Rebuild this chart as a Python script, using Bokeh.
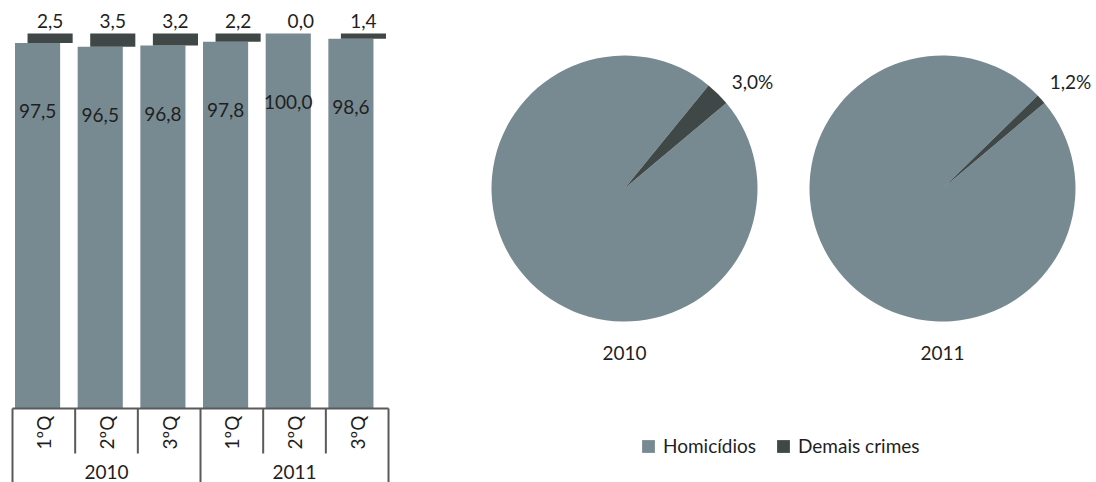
import math
from bokeh.plotting import figure
from bokeh.models import Range1d, ColumnDataSource, Legend, LegendItem
from bokeh.layouts import row
from bokeh.core.properties import value
from bokeh.embed import file_html
from bokeh.resources import INLINE

# ---------------- data ----------------
quarters = ["1ºQ", "2ºQ", "3ºQ", "1ºQ", "2ºQ", "3ºQ"]
years = ["2010", "2011"]
homicidios = [97.5, 96.5, 96.8, 97.8, 100.0, 98.6]
demais = [2.5, 3.5, 3.2, 2.2, 0.0, 1.4]

pie_years = ["2010", "2011"]
pie_homicidios = [97.0, 98.8]
pie_demais = [3.0, 1.2]

GRAY = "#778a91"
DARK = "#3f4847"
TEXT = "#1f1f1f"
AXIS = "#5a5a5a"
FONT = "Lato"
FS = "19px"

def fmt(v):
    return f"{v:.1f}".replace(".", ",")

# ---------------- bar chart ----------------
W1, H = 420, 482
px_per_cat = 62.67
px_per_unit = 3.75
x0_px, y0_px = 12, 408
p1 = figure(width=W1, height=H, output_backend="svg", toolbar_location=None,
            x_axis_type=None, y_axis_type=None,
            x_range=Range1d(-x0_px / px_per_cat, (W1 - x0_px) / px_per_cat),
            y_range=Range1d(-(H - y0_px) / px_per_unit, y0_px / px_per_unit),
            min_border=0)
p1.outline_line_color = None
p1.grid.visible = False

n = len(homicidios)
xc = [i + 0.5 for i in range(n)]
bars = ColumnDataSource(dict(
    xg=[x - 0.1 for x in xc], xd=[x + 0.1 for x in xc],
    hom=homicidios, dem=demais,
    top=[h + d for h, d in zip(homicidios, demais)],
    hom_lbl=[fmt(v) for v in homicidios], dem_lbl=[fmt(v) for v in demais],
    hom_y=[v - 68 / px_per_unit for v in homicidios],
    dem_y=[h + d + 13 / px_per_unit for h, d in zip(homicidios, demais)],
))
p1.vbar(x="xg", bottom=0, top="hom", width=0.72, source=bars, color=GRAY, line_color=None)
p1.vbar(x="xd", bottom="hom", top="top", width=0.72, source=bars, color=DARK, line_color=None)
p1.text(x="xg", y="hom_y", text="hom_lbl", source=bars, text_font=value(FONT),
        text_font_size=FS, text_color=TEXT, text_align="center", text_baseline="middle")
p1.text(x="xd", y="dem_y", text="dem_lbl", source=bars, text_font=value(FONT),
        text_font_size=FS, text_color=TEXT, text_align="center", text_baseline="middle")

# category axis (Excel style multi-level)
y_bottom = -(H - y0_px) / px_per_unit
y_q = -45 / px_per_unit
p1.segment(x0=[0], y0=[0], x1=[n], y1=[0], line_color=AXIS, line_width=2)
inner = [i for i in range(n + 1) if i % 3 != 0]
outer = [i for i in range(n + 1) if i % 3 == 0]
p1.segment(x0=inner, y0=[0] * len(inner), x1=inner, y1=[y_q] * len(inner),
           line_color=AXIS, line_width=2)
p1.segment(x0=outer, y0=[0] * len(outer), x1=outer, y1=[y_bottom] * len(outer),
           line_color=AXIS, line_width=2)
p1.text(x=xc, y=[-24 / px_per_unit] * n, text=quarters, angle=math.pi / 2,
        text_font=value(FONT), text_font_size=FS, text_color=TEXT,
        text_align="center", text_baseline="middle")
p1.text(x=[1.5, 4.5], y=[-63 / px_per_unit] * 2, text=years,
        text_font=value(FONT), text_font_size=FS, text_color=TEXT,
        text_align="center", text_baseline="middle")

# ---------------- pies ----------------
W2 = 1096 - W1
p2 = figure(width=W2, height=H, output_backend="svg", toolbar_location=None,
            x_axis_type=None, y_axis_type=None,
            x_range=Range1d(W1, 1096), y_range=Range1d(0, H), min_border=0)
p2.outline_line_color = None
p2.grid.visible = False

cx = [624, 942]
cy = [H - 188, H - 188]
r = 133
start = math.radians(40)
dark_end = [start + d / 100 * 2 * math.pi for d in pie_demais]
gsrc = ColumnDataSource(dict(x=cx, y=cy, s=dark_end, e=[start + 2 * math.pi] * 2))
dsrc = ColumnDataSource(dict(x=cx, y=cy, s=[start] * 2, e=dark_end))
rg = p2.wedge(x="x", y="y", radius=r, start_angle="s", end_angle="e", source=gsrc,
              color=GRAY, line_color=None)
rd = p2.wedge(x="x", y="y", radius=r, start_angle="s", end_angle="e", source=dsrc,
              color=DARK, line_color=None)

lbl_r = 167
p2.text(x=[c + lbl_r * math.cos(start) for c in cx],
        y=[c + lbl_r * math.sin(start) for c in cy],
        text=[fmt(v) + "%" for v in pie_demais],
        text_font=value(FONT), text_font_size=FS, text_color=TEXT,
        text_align="center", text_baseline="middle")
p2.text(x=cx, y=[c - 164 for c in cy], text=pie_years,
        text_font=value(FONT), text_font_size=FS, text_color=TEXT,
        text_align="center", text_baseline="middle")

legend = Legend(items=[LegendItem(label="Homicídios", renderers=[rg]),
                       LegendItem(label="Demais crimes", renderers=[rd])],
                orientation="horizontal", location=(220, 25),
                border_line_color=None, background_fill_alpha=0,
                padding=0, margin=0, spacing=19, label_standoff=7,
                glyph_width=16, glyph_height=16,
                label_text_font=FONT, label_text_font_size=FS,
                label_text_color=TEXT)
p2.add_layout(legend)

layout = row(p1, p2, spacing=0)
open("out.html", "w").write(file_html(layout, INLINE))
